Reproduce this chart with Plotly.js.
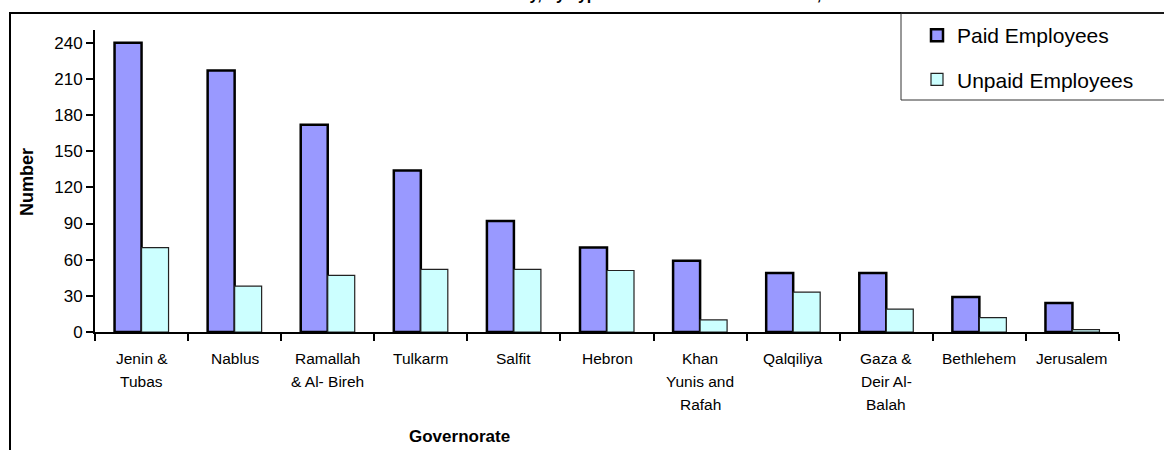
<!DOCTYPE html>
<html>
<head>
<meta charset="utf-8">
<script src="https://cdn.plot.ly/plotly-3.0.1.min.js"></script>
<style>
  html, body { margin: 0; padding: 0; background: #ffffff; }
  #chart { width: 1164px; height: 450px; }
</style>
</head>
<body>
<div id="chart"></div>
<script>
// Governorates (category keys) and the wrapped labels shown under each group
const governorates = [
  "Jenin & Tubas", "Nablus", "Ramallah & Al- Bireh", "Tulkarm", "Salfit", "Hebron",
  "Khan Yunis and Rafah", "Qalqiliya", "Gaza & Deir Al- Balah", "Bethlehem", "Jerusalem"
];
const labelLines = [
  ["Jenin &", "Tubas"], ["Nablus"], ["Ramallah", "& Al- Bireh"], ["Tulkarm"], ["Salfit"],
  ["Hebron"], ["Khan", "Yunis and", "Rafah"], ["Qalqiliya"], ["Gaza &", "Deir Al-", "Balah"],
  ["Bethlehem"], ["Jerusalem"]
];

// Employees by type
const paidEmployees   = [240, 217, 172, 134, 92, 70, 59, 49, 49, 29, 24];
const unpaidEmployees = [70, 38, 47, 52, 52, 51, 10, 33, 19, 12, 2];

const yTicks = [0, 30, 60, 90, 120, 150, 180, 210, 240];

const FONT = "Liberation Sans, Arial, Helvetica, sans-serif";

// plot-area geometry in pixels (used to convert frame positions to paper units)
const L = 95, R = 45, T = 30, B = 118;
const W = 1164 - L - R, H = 450 - T - B;
const px = x => (x - L) / W;
const py = y => (450 - B - y) / H;

const traces = [
  {
    type: "bar",
    name: "Paid Employees",
    x: governorates,
    y: paidEmployees,
    legendgroup: "paid",
    marker: { color: "#9999FF", line: { color: "#000000", width: 2.5 } },
    hoverinfo: "x+y"
  },
  {
    type: "bar",
    name: "Unpaid Employees",
    x: governorates,
    y: unpaidEmployees,
    legendgroup: "unpaid",
    marker: { color: "#CCFFFF", line: { color: "#222222", width: 1.2 } },
    hoverinfo: "x+y"
  }
];

// category labels, one annotation per line so the line spacing can be set
const annotations = [];
labelLines.forEach((lines, i) => {
  lines.forEach((line, j) => {
    annotations.push({
      x: governorates[i], y: 0, xref: "x", yref: "y",
      text: line, showarrow: false,
      xanchor: "center", yanchor: "middle",
      yshift: -26 - j * 23.4,
      font: { family: FONT, size: 15.5, color: "#000000" }
    });
  });
});

annotations.push({
  x: px(27), y: py(182), xref: "paper", yref: "paper",
  text: "<b>Number</b>", showarrow: false, textangle: -90,
  xanchor: "center", yanchor: "middle",
  font: { family: FONT, size: 18, color: "#000000" }
});
annotations.push({
  x: px(459), y: py(437), xref: "paper", yref: "paper",
  text: "<b>Governorate</b>", showarrow: false,
  xanchor: "center", yanchor: "middle",
  font: { family: FONT, size: 17, color: "#000000" }
});
// chart heading, running off the top edge of the page
annotations.push({
  x: px(585), y: py(5), xref: "paper", yref: "paper",
  text: "<b>Number of Workers in Activity, by Type of Worker and Governorate, 2007</b>",
  showarrow: false, xanchor: "center", yanchor: "bottom",
  font: { family: FONT, size: 16, color: "#000000" }
});

const layout = {
  width: 1164,
  height: 450,
  margin: { l: L, r: R, t: T, b: B, pad: 0 },
  paper_bgcolor: "#ffffff",
  plot_bgcolor: "#ffffff",
  font: { family: FONT, color: "#000000" },
  barmode: "group",
  bargap: 0.42,
  bargroupgap: 0,
  showlegend: true,
  legend: {
    x: px(917), y: py(15), xanchor: "left", yanchor: "top",
    bgcolor: "rgba(0,0,0,0)", borderwidth: 0,
    traceorder: "grouped", tracegroupgap: 14,
    font: { family: FONT, size: 21, color: "#000000" },
    itemwidth: 30
  },
  xaxis: {
    type: "category",
    showticklabels: false,
    ticks: "outside", tickson: "boundaries",
    ticklen: 7, tickwidth: 2, tickcolor: "#000000",
    showline: true, linecolor: "#000000", linewidth: 2,
    showgrid: false, zeroline: false,
    fixedrange: true
  },
  yaxis: {
    range: [0, 250.5],
    tickvals: yTicks,
    ticktext: yTicks.map(String),
    ticks: "outside", ticklen: 7, tickwidth: 2, tickcolor: "#000000",
    tickfont: { family: FONT, size: 17, color: "#000000" },
    showline: true, linecolor: "#000000", linewidth: 2,
    showgrid: false, zeroline: false,
    fixedrange: true
  },
  shapes: [
    // outer chart frame
    { type: "rect", xref: "paper", yref: "paper",
      x0: px(10), x1: px(1300), y0: py(600), y1: py(13),
      line: { color: "#000000", width: 2 }, fillcolor: "rgba(0,0,0,0)", layer: "above" },
    // legend box
    { type: "rect", xref: "paper", yref: "paper",
      x0: px(901), x1: px(1300), y0: py(100), y1: py(13),
      line: { color: "#333333", width: 1 }, fillcolor: "rgba(0,0,0,0)", layer: "above" }
  ],
  annotations: annotations
};

Plotly.newPlot("chart", traces, layout, { displayModeBar: false, staticPlot: true });
</script>
</body>
</html>
